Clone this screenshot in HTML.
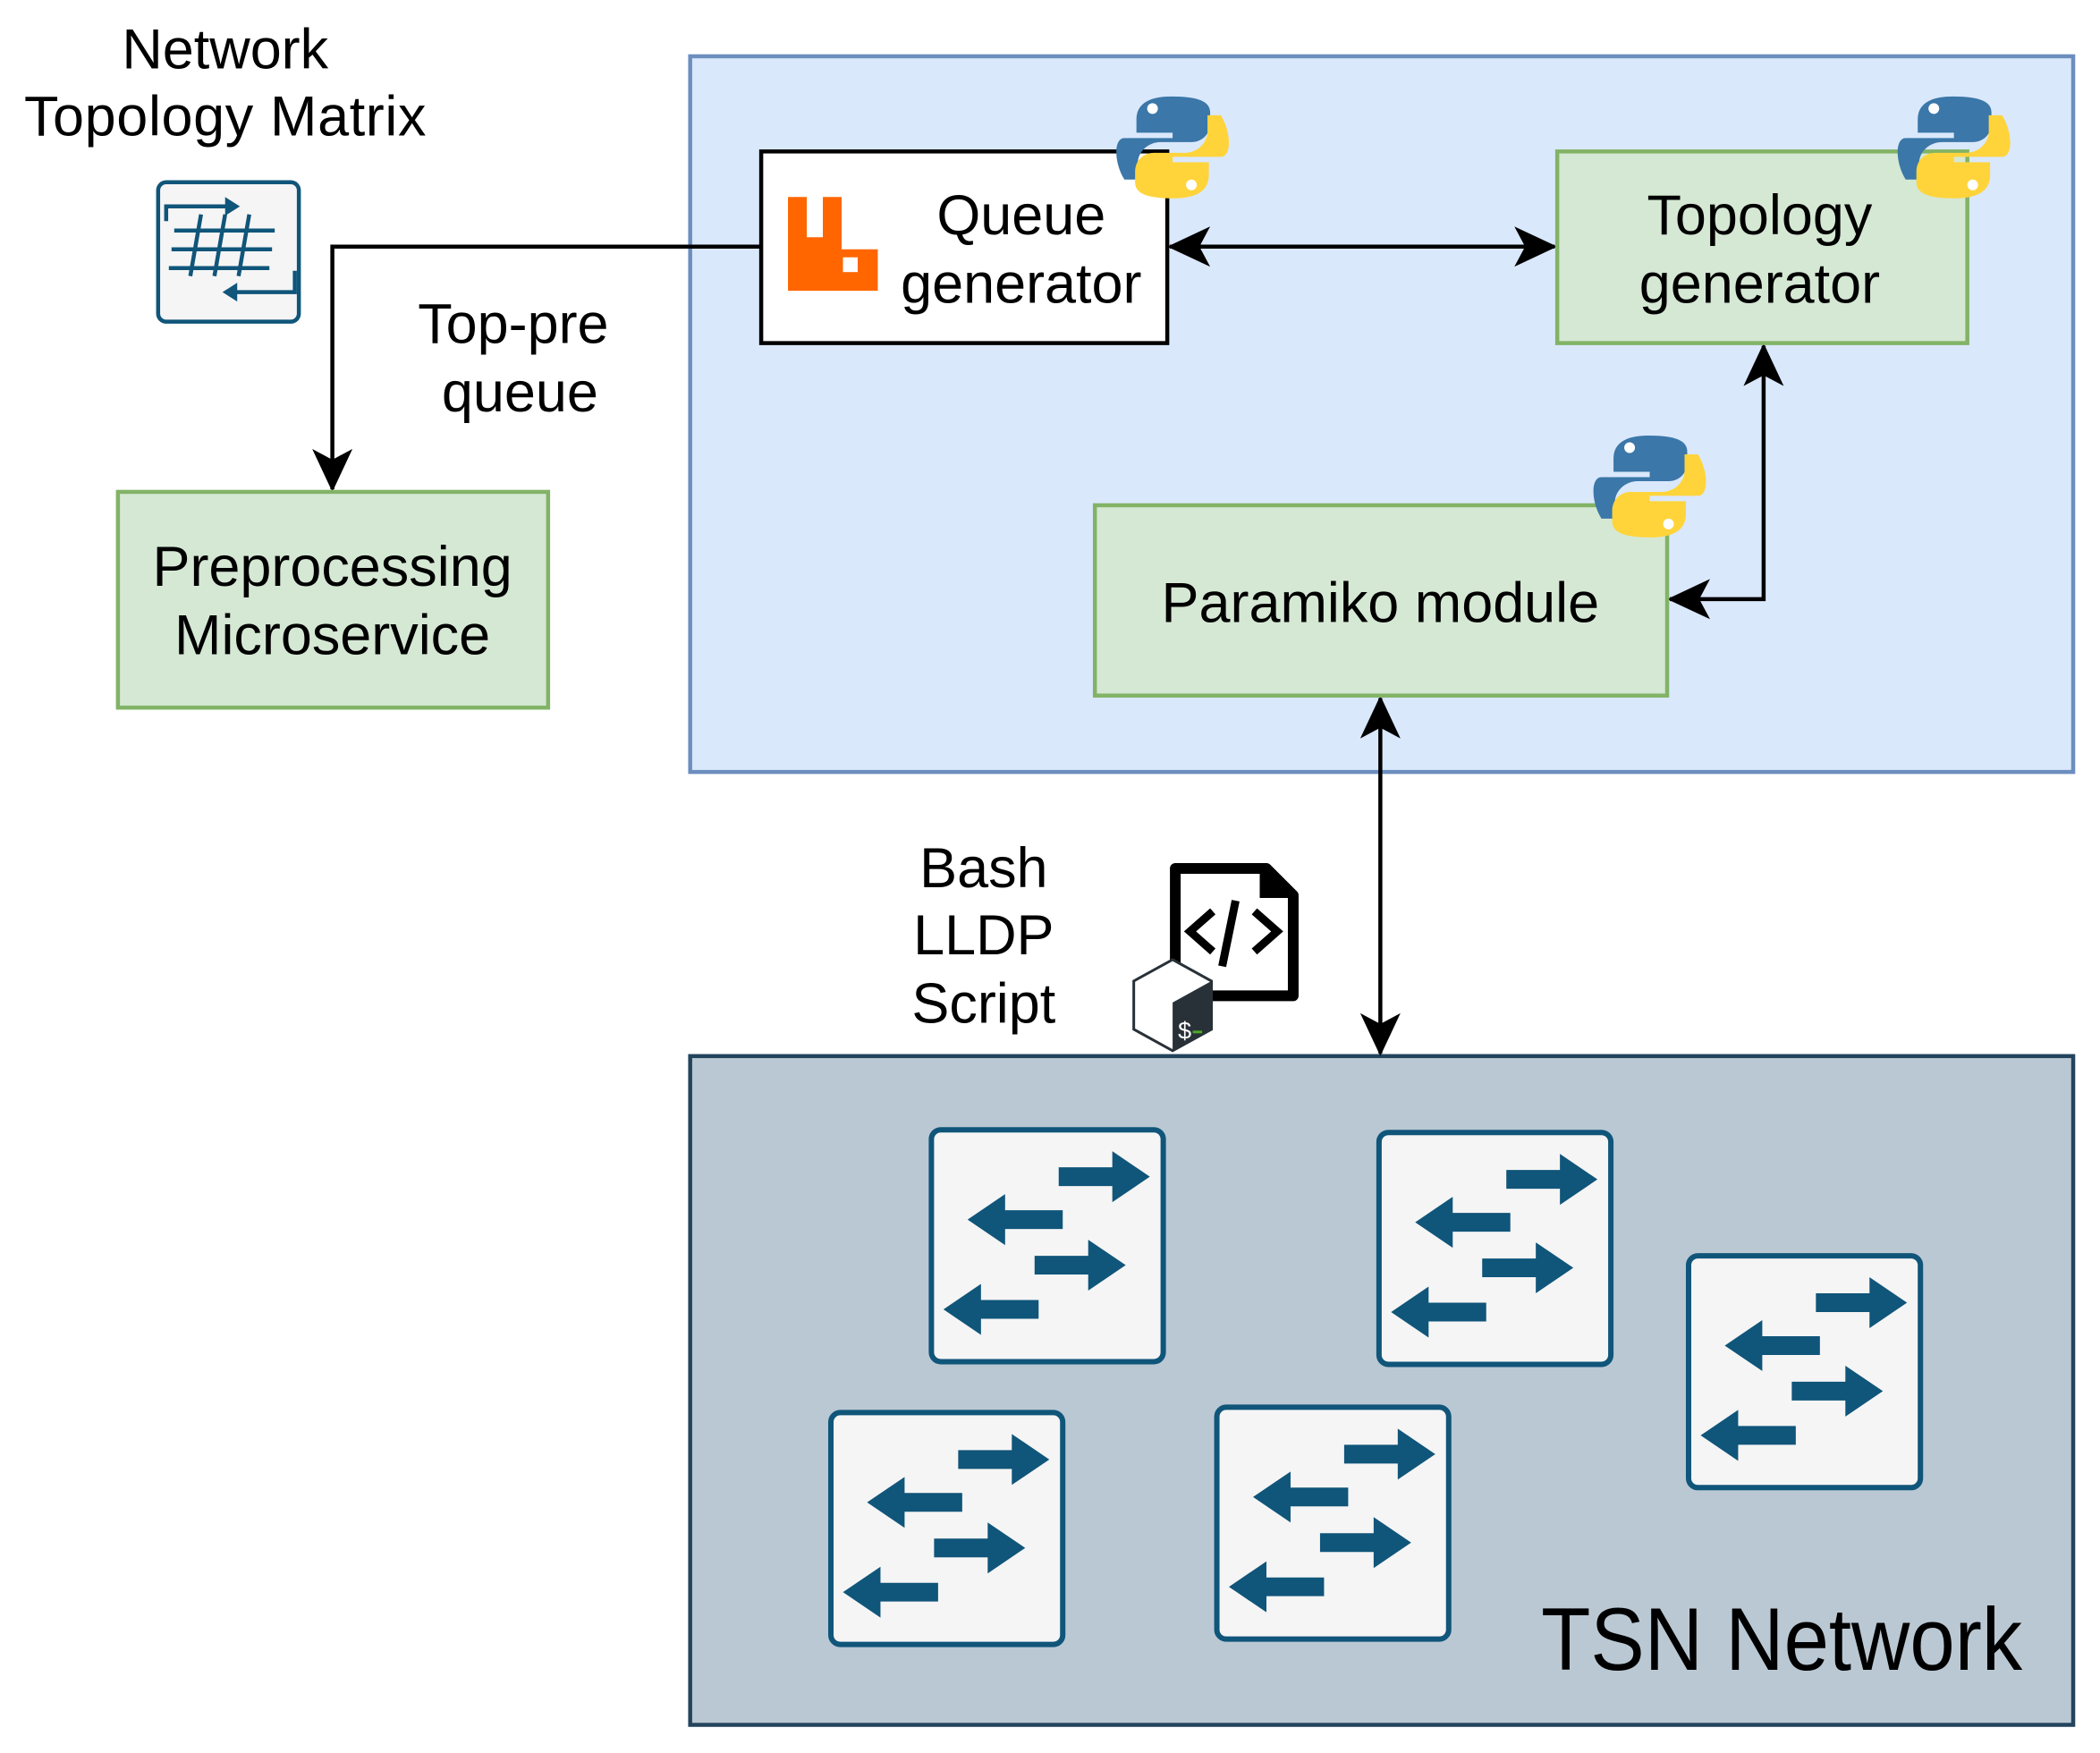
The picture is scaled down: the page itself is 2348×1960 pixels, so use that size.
<!DOCTYPE html>
<html><head><meta charset="utf-8"><style>
html,body{margin:0;padding:0;background:#fff;}
svg{display:block;}
text{font-family:"Liberation Sans",sans-serif;fill:#000;}
</style></head><body>
<svg width="2348" height="1960" viewBox="0 0 1567 1308" preserveAspectRatio="none" xmlns="http://www.w3.org/2000/svg">
<defs>
<g id="sw">
<rect x="0" y="0" width="173" height="173" rx="7" fill="#f5f5f5" stroke="#10557a" stroke-width="4"/>
<g fill="#10557a">
<path d="M95 28h40v-12l28 19-28 19v-12h-40z"/>
<path d="M98 60h-43v-12l-28 19 28 19v-12h43z"/>
<path d="M77 94h40v-12l28 19-28 19v-12h-40z"/>
<path d="M80 127h-43v-12l-28 19 28 19v-12h43z"/>
</g>
</g>
<g id="py">
<path d="M40 0c-20 0-26 8-26 17v10h27v4H5C-3 31-3 49 5 62h10v-12c0-9 8-16 17-16h23c8 0 14-6 14-14V12C69 4 61 0 40 0z" fill="#3b77a8"/>
<circle cx="26" cy="9" r="4" fill="#fff"/>
<path d="M42 76c20 0 26-8 26-17V49H41v-4h36c8 0 8-18 0-31H67v12c0 9-8 16-17 16H27c-8 0-14 6-14 14v8c0 8 8 12 29 12z" fill="#ffd43b"/>
<circle cx="55" cy="66" r="4" fill="#fff"/>
</g>
<marker id="ah" viewBox="0 0 32 30" refX="30" refY="15" markerWidth="32" markerHeight="30" markerUnits="userSpaceOnUse" orient="auto-start-reverse">
<path d="M0 0L32 15 0 30 8 15z" fill="#000"/>
</marker>
</defs>

<rect x="515" y="42" width="1032" height="534" fill="#dae8fc" stroke="#6c8ebf" stroke-width="3"/>
<rect x="515" y="788" width="1032" height="499" fill="#bac8d3" stroke="#23445d" stroke-width="3"/>

<path d="M568 184H248V365" fill="none" stroke="#000" stroke-width="3" marker-end="url(#ah)"/>
<path d="M873 184H1160" fill="none" stroke="#000" stroke-width="3" marker-start="url(#ah)" marker-end="url(#ah)"/>
<path d="M1316 258V447H1246" fill="none" stroke="#000" stroke-width="3" marker-start="url(#ah)" marker-end="url(#ah)"/>
<path d="M1030 521V786" fill="none" stroke="#000" stroke-width="3" marker-start="url(#ah)" marker-end="url(#ah)"/>

<rect x="568" y="113" width="303" height="143" fill="#fff" stroke="#000" stroke-width="3"/>
<rect x="1162" y="113" width="306" height="143" fill="#d5e8d4" stroke="#82b366" stroke-width="3"/>
<rect x="817" y="377" width="427" height="142" fill="#d5e8d4" stroke="#82b366" stroke-width="3"/>
<rect x="88" y="367" width="321" height="161" fill="#d5e8d4" stroke="#82b366" stroke-width="3"/>

<path d="M588 147h14v30h12v-30h14v39h27v31h-67z" fill="#ff6600"/>
<rect x="629" y="192" width="11" height="11" fill="#fff"/>

<use href="#py" x="834" y="72"/>
<use href="#py" x="1417" y="72"/>
<use href="#py" x="1190" y="325"/>

<rect x="118" y="136" width="105" height="104" rx="6" fill="#f5f5f5" stroke="#10557a" stroke-width="3"/>
<g stroke="#10557a" stroke-width="3" fill="none">
<path d="M130 172h75M128 186h75M126 200h75"/>
<path d="M150 160l-8 46M168 160l-8 46M186 160l-8 46"/>
<path d="M124 165v-11h46"/><path d="M220 202v16h-46"/>
</g>
<path d="M168 147l11 7-11 7z" fill="#10557a"/>
<path d="M177 211l-11 7 11 7z" fill="#10557a"/>

<path d="M877 648h68l20 20v75h-88z" fill="#fff" stroke="#000" stroke-width="8" stroke-linejoin="round"/>
<path d="M940 648v22h23z" fill="#000"/>
<path d="M905 680l-17 15 17 15M936 680l17 15-17 15" fill="none" stroke="#000" stroke-width="6"/>
<path d="M922 672l-10 49" stroke="#000" stroke-width="6"/>
<path d="M875 716l29 16v36l-29 16-29-16v-36z" fill="#fff" stroke="#293138" stroke-width="2"/>
<path d="M904 732v36l-29 16v-36z" fill="#293138"/>
<text x="879" y="775" font-size="18" style="fill:#fff">$</text>
<path d="M890 770h7" stroke="#4da825" stroke-width="2"/>

<use href="#sw" x="695" y="843"/>
<use href="#sw" x="1029" y="845"/>
<use href="#sw" x="1260" y="937"/>
<use href="#sw" x="620" y="1054"/>
<use href="#sw" x="908" y="1050"/>

<text x="168" y="51" font-size="42" text-anchor="middle">Network</text>
<text x="168" y="101" font-size="42" text-anchor="middle" textLength="300">Topology Matrix</text>
<text x="383" y="256" font-size="42" text-anchor="middle">Top-pre</text>
<text x="388" y="307" font-size="42" text-anchor="middle">queue</text>
<text x="762" y="175" font-size="42" text-anchor="middle">Queue</text>
<text x="762" y="226" font-size="42" text-anchor="middle">generator</text>
<text x="1313" y="175" font-size="42" text-anchor="middle">Topology</text>
<text x="1313" y="226" font-size="42" text-anchor="middle">generator</text>
<text x="1030" y="464" font-size="42" text-anchor="middle">Paramiko module</text>
<text x="248" y="437" font-size="42" text-anchor="middle">Preprocessing</text>
<text x="248" y="488" font-size="42" text-anchor="middle">Microservice</text>
<text x="734" y="662" font-size="42" text-anchor="middle">Bash</text>
<text x="734" y="712" font-size="42" text-anchor="middle">LLDP</text>
<text x="734" y="763" font-size="42" text-anchor="middle">Script</text>
<text x="1150" y="1246" font-size="66" textLength="359" lengthAdjust="spacingAndGlyphs">TSN Network</text>
</svg>
</body></html>
